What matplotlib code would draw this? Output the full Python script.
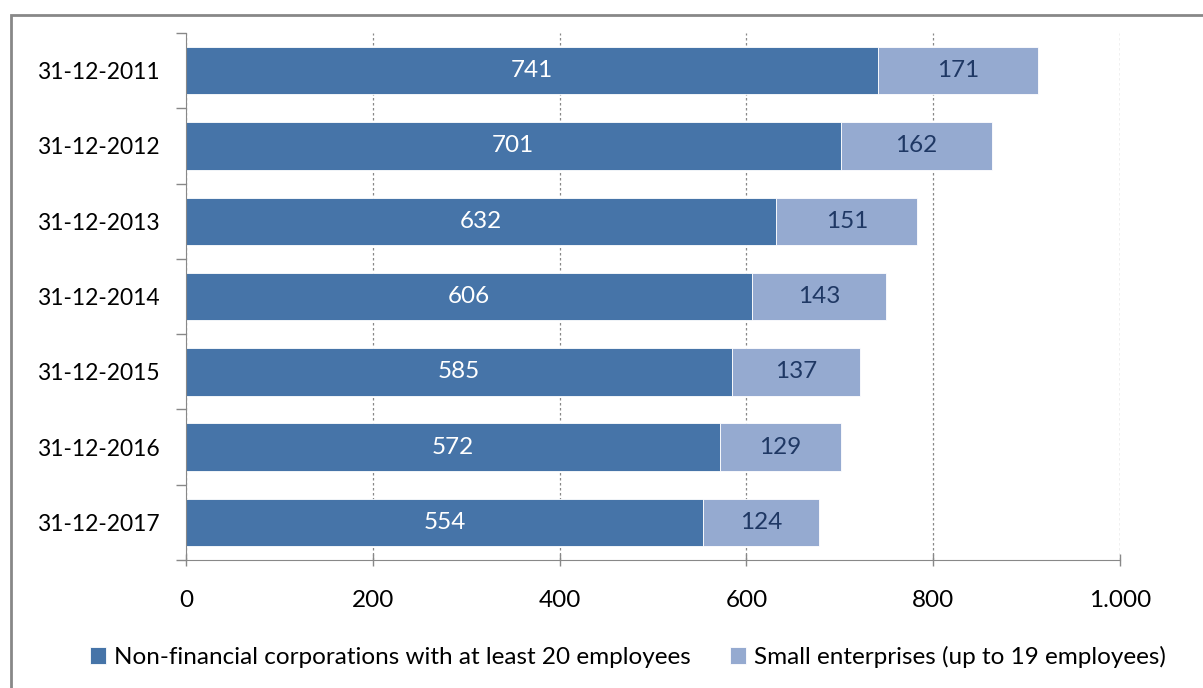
import numpy as np
import matplotlib
matplotlib.use("Agg")
from matplotlib import pyplot as plt
from matplotlib.patches import Rectangle

dates = ["31-12-2011", "31-12-2012", "31-12-2013", "31-12-2014",
         "31-12-2015", "31-12-2016", "31-12-2017"]
large = [741, 701, 632, 606, 585, 572, 554]
small = [171, 162, 151, 143, 137, 129, 124]
xticks = [0, 200, 400, 600, 800, 1000]
xtick_labels = ["0", "200", "400", "600", "800", "1.000"]

dark = "#4674a8"
light = "#95aad0"
fs = 17.5

plt.rcParams['font.family'] = ['Lato', 'DejaVu Sans']

fig = plt.figure(figsize=(12.03, 6.88), dpi=100)
ax = fig.add_axes([0.1546, 0.186, 0.7764, 0.766])

y = np.arange(len(dates))
b1 = ax.barh(y, large, height=0.63, color=dark, edgecolor="white", linewidth=0.6,
             label="Non-financial corporations with at least 20 employees")
b2 = ax.barh(y, small, left=large, height=0.63, color=light, edgecolor="white", linewidth=0.6,
             label="Small enterprises (up to 19 employees)")

for i in range(len(dates)):
    ax.text(large[i] / 2, y[i], str(large[i]), ha="center", va="center",
            color="white", fontsize=fs)
    ax.text(large[i] + small[i] / 2, y[i], str(small[i]), ha="center", va="center",
            color="#1f3864", fontsize=fs)

ax.set_ylim(len(dates) - 0.5, -0.5)
ax.set_xlim(0, 1000)
ax.set_yticks(y)
ax.set_yticklabels(dates, fontsize=16.5)
ax.set_xticks(xticks)
ax.set_xticklabels(xtick_labels, fontsize=fs)

# category separators as ticks
ax.set_yticks(np.arange(-0.5, len(dates), 1), minor=True)
ax.tick_params(axis="y", which="major", length=0, pad=19)
ax.tick_params(axis="y", which="minor", length=7, color="#888888", width=1)
ax.tick_params(axis="x", length=9, color="#888888", width=1, direction="inout", pad=17)

ax.xaxis.grid(True, linestyle=(0, (2, 2)), color="#888888", linewidth=0.9)
ax.set_axisbelow(True)
for s in ["top", "right"]:
    ax.spines[s].set_visible(False)
ax.spines["left"].set_color("#888888")
ax.spines["bottom"].set_color("#888888")

fig.legend(handles=[b1, b2], loc="center", bbox_to_anchor=(0.522, 0.045), ncol=2,
           frameon=False, fontsize=fs, handlelength=0.65, handleheight=0.65,
           handletextpad=0.35, columnspacing=1.6)

fig.patches.append(Rectangle((11 / 1203, -0.1), 1.2, 1 - 15 / 688 + 0.1,
                             transform=fig.transFigure, fill=False,
                             edgecolor="#888888", linewidth=2))

fig.savefig("out.png", dpi=100)
